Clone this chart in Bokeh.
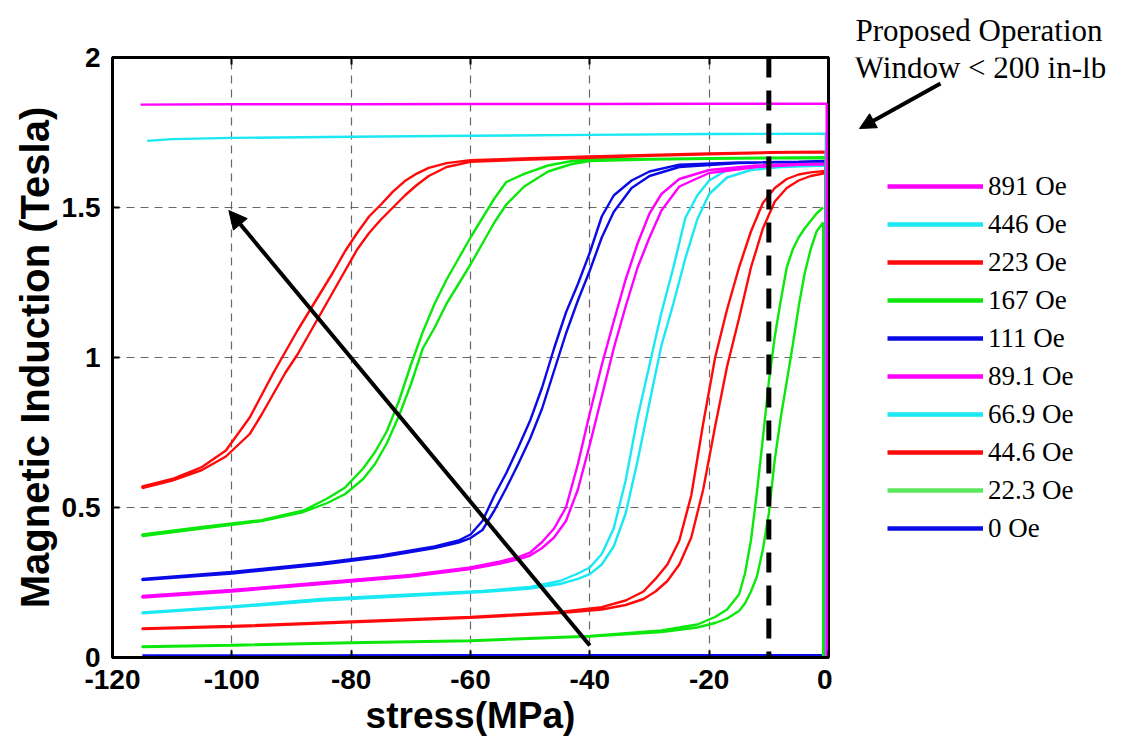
import math

from bokeh.plotting import figure
from bokeh.layouts import row
from bokeh.models import (Range1d, FixedTicker, LinearAxis, Span, Arrow, NormalHead,
                          Label, Legend, LegendItem)
from bokeh.embed import file_html
from bokeh.resources import INLINE

# ---------------------------------------------------------------- axes
STRESS_TICKS = [-120, -100, -80, -60, -40, -20, 0]
STRESS_TICK_LABELS = ["-120", "-100", "-80", "-60", "-40", "-20", "0"]
B_TICKS = [0, 0.5, 1, 1.5, 2]
B_TICK_LABELS = ["0", "0.5", "1", "1.5", "2"]

FIELD_LABELS = ["891 Oe", "446 Oe", "223 Oe", "167 Oe", "111 Oe",
                "89.1 Oe", "66.9 Oe", "44.6 Oe", "22.3 Oe", "0 Oe"]

# ---------------------------------------------------------------- B(stress) loops
# each loop: stress grid (MPa), induction on the upper and lower branch (T)
S_891 = [-115.3, -100, -80, -60, -40, -20, -0.3]
B_891 = [1.843, 1.844, 1.844, 1.845, 1.845, 1.846, 1.846]

S_446 = [-114.2, -110, -100, -80, -60, -40, -20, -0.45]
B_446 = [1.722, 1.728, 1.732, 1.736, 1.739, 1.742, 1.745, 1.746]

S_223 = [-115, -110, -105, -101, -97, -95, -93, -91, -89, -87, -85, -83, -81, -79,
         -77, -75, -73, -71, -69, -67, -64, -60, -50, -40, -30, -20, -10, -0.45]
B_223_UPPER = [0.57, 0.595, 0.635, 0.69, 0.80, 0.875, 0.95, 1.02, 1.09, 1.155,
               1.22, 1.285, 1.355, 1.415, 1.47, 1.51, 1.553, 1.588, 1.613, 1.632,
               1.648, 1.658, 1.664, 1.67, 1.675, 1.68, 1.684, 1.686]
B_223_LOWER = [0.565, 0.59, 0.625, 0.67, 0.745, 0.81, 0.88, 0.95, 1.01, 1.08,
               1.15, 1.22, 1.29, 1.36, 1.415, 1.46, 1.50, 1.54, 1.575, 1.605,
               1.635, 1.652, 1.66, 1.666, 1.672, 1.677, 1.682, 1.684]

S_167 = [-115, -105, -95, -88, -84, -81, -78, -76, -74, -72, -70, -68, -66, -64,
         -62, -60, -58, -56, -54, -51, -47, -43, -40, -30, -20, -10, -0.45]
B_167_UPPER = [0.41, 0.435, 0.458, 0.49, 0.53, 0.567, 0.63, 0.685, 0.755, 0.855,
               0.975, 1.085, 1.18, 1.26, 1.33, 1.40, 1.465, 1.53, 1.585, 1.612,
               1.64, 1.655, 1.66, 1.662, 1.664, 1.666, 1.667]
B_167_LOWER = [0.405, 0.43, 0.455, 0.485, 0.515, 0.545, 0.595, 0.645, 0.715, 0.805,
               0.91, 1.03, 1.10, 1.18, 1.245, 1.31, 1.38, 1.45, 1.51, 1.57,
               1.62, 1.645, 1.655, 1.66, 1.662, 1.664, 1.665]

S_111 = [-115, -100, -85, -75, -66, -62, -60, -58, -56, -54, -52, -50, -48, -46,
         -44, -42, -40, -38, -36, -33, -30, -25, -15, -5, -0.45]
B_111_UPPER = [0.262, 0.285, 0.315, 0.34, 0.37, 0.39, 0.41, 0.455, 0.54, 0.615,
               0.70, 0.79, 0.90, 1.03, 1.15, 1.245, 1.35, 1.47, 1.54, 1.59,
               1.62, 1.643, 1.65, 1.653, 1.655]
B_111_LOWER = [0.258, 0.28, 0.31, 0.335, 0.365, 0.383, 0.398, 0.425, 0.49, 0.565,
               0.645, 0.73, 0.83, 0.955, 1.08, 1.19, 1.29, 1.40, 1.485, 1.565,
               1.605, 1.635, 1.648, 1.652, 1.654]

S_89 = [-115, -100, -85, -70, -60, -55, -52, -50, -48, -46, -44, -42, -40, -38,
        -36, -34, -32, -30, -28, -25, -20, -12, -5, -0.45]
B_89_UPPER = [0.205, 0.225, 0.25, 0.275, 0.30, 0.32, 0.335, 0.35, 0.385, 0.43,
              0.50, 0.645, 0.815, 0.975, 1.12, 1.26, 1.38, 1.48, 1.545, 1.595,
              1.625, 1.64, 1.645, 1.646]
B_89_LOWER = [0.20, 0.22, 0.245, 0.27, 0.295, 0.313, 0.327, 0.34, 0.365, 0.40,
              0.455, 0.56, 0.71, 0.87, 1.03, 1.17, 1.30, 1.40, 1.49, 1.57,
              1.615, 1.635, 1.642, 1.644]

S_67 = [-115, -100, -85, -70, -58, -50, -45, -42, -40, -38, -36, -34, -32, -30,
        -28, -26, -24, -22, -20, -17, -13, -8, -0.45]
B_67_UPPER = [0.15, 0.17, 0.195, 0.21, 0.222, 0.235, 0.255, 0.28, 0.30, 0.345,
              0.43, 0.59, 0.80, 0.975, 1.15, 1.30, 1.465, 1.54, 1.59, 1.625,
              1.635, 1.64, 1.642]
B_67_LOWER = [0.147, 0.167, 0.19, 0.206, 0.218, 0.23, 0.245, 0.262, 0.278, 0.31,
              0.37, 0.48, 0.655, 0.85, 1.04, 1.18, 1.33, 1.46, 1.545, 1.60,
              1.625, 1.635, 1.64]

S_45 = [-115, -100, -80, -60, -45, -38, -34, -31, -29, -27, -25, -23, -21, -19,
        -17, -15, -13, -11, -9, -7, -5, -3, -0.45]
B_45_UPPER = [0.097, 0.105, 0.12, 0.135, 0.152, 0.168, 0.19, 0.22, 0.262, 0.31,
              0.39, 0.54, 0.78, 1.0, 1.16, 1.30, 1.42, 1.515, 1.565, 1.595,
              1.61, 1.617, 1.622]
B_45_LOWER = [0.095, 0.102, 0.117, 0.132, 0.148, 0.16, 0.175, 0.195, 0.22, 0.255,
              0.31, 0.40, 0.56, 0.77, 0.97, 1.13, 1.30, 1.43, 1.52, 1.565,
              1.59, 1.605, 1.615]

S_22 = [-115, -100, -80, -60, -40, -28, -22, -19, -17, -15, -14, -13, -12, -11,
        -10, -9, -8, -7, -6, -5, -4, -3, -2, -0.9]
B_22_UPPER = [0.037, 0.042, 0.05, 0.057, 0.072, 0.09, 0.11, 0.135, 0.16, 0.21,
              0.28, 0.39, 0.55, 0.73, 0.92, 1.07, 1.19, 1.30, 1.36, 1.40,
              1.43, 1.455, 1.48, 1.50]
B_22_LOWER = [0.035, 0.04, 0.048, 0.055, 0.07, 0.085, 0.10, 0.115, 0.13, 0.155,
              0.18, 0.22, 0.27, 0.36, 0.48, 0.66, 0.80, 0.92, 1.04, 1.17,
              1.28, 1.36, 1.42, 1.45]

S_0 = [-115, -60, -0.3]
B_0 = [0.005, 0.006, 0.006]

# guide marks
OPERATING_LIMIT = -10                      # MPa, proposed operation window edge
TREND_FROM = (-40, 0.04)                   # increasing-field trend arrow
TREND_TO = (-100.5, 1.49)

MAGENTA, CYAN, RED, GREEN, BLUE = "#ff00ff", "#1ae8f2", "#ff0a0a", "#0ce80c", "#0a0ae6"


def loop_path(s, upper, lower):
    """Closed path: drop line at zero stress, lower branch out, upper branch back."""
    xs = [s[-1]] + s[::-1] + s
    ys = [0.0] + lower[::-1] + upper
    return xs, ys


def flat_path(s, b):
    return s + [s[-1]], b + [0.0]


# ================================================================ main axes
p = figure(width=832, height=740, x_range=Range1d(-120, 0), y_range=Range1d(0, 2),
           output_backend="svg", toolbar_location=None,
           min_border_left=112, min_border_right=4, min_border_top=57,
           min_border_bottom=83, background_fill_color="white",
           border_fill_color="white")

p.outline_line_color = "black"
p.outline_line_width = 3

for g in (p.xgrid, p.ygrid):
    g.grid_line_color = "#4d4d4d"
    g.grid_line_dash = "8 6"
    g.grid_line_width = 1.2
    g.grid_line_alpha = 0.85
p.xgrid.ticker = FixedTicker(ticks=STRESS_TICKS)
p.ygrid.ticker = FixedTicker(ticks=B_TICKS)

tick_font = dict(major_label_text_font="Liberation Sans",
                 major_label_text_font_style="bold",
                 major_label_text_font_size="28px",
                 major_label_text_color="black",
                 axis_label_text_font="Liberation Sans",
                 axis_label_text_font_style="bold",
                 axis_label_text_color="black")
xa = p.xaxis[0]
xa.ticker = FixedTicker(ticks=STRESS_TICKS)
xa.major_label_overrides = dict(zip(STRESS_TICKS, STRESS_TICK_LABELS))
xa.major_label_standoff = 12
xa.axis_label = "stress(MPa)"
xa.axis_label_text_font_size = "37px"
xa.axis_label_standoff = 3
ya = p.yaxis[0]
ya.ticker = FixedTicker(ticks=B_TICKS)
ya.major_label_overrides = dict(zip(B_TICKS, B_TICK_LABELS))
ya.major_label_standoff = 12
ya.axis_label = "Magnetic Induction (Tesla)"
ya.axis_label_text_font_size = "40px"
ya.axis_label_standoff = 2
for ax in (xa, ya):
    for k, v in tick_font.items():
        setattr(ax, k, v)
    ax.axis_line_width = 3
    ax.axis_line_color = "black"
    ax.major_tick_in = 7
    ax.major_tick_out = 0
    ax.major_tick_line_width = 2
    ax.minor_tick_line_color = None

# tick marks along the top edge of the box, no labels there
top = LinearAxis(ticker=FixedTicker(ticks=STRESS_TICKS),
                 major_label_text_color=None, major_label_text_alpha=0,
                 major_label_text_font_size="1px",
                 major_tick_in=7, major_tick_out=0, major_tick_line_width=2,
                 minor_tick_line_color=None, axis_line_width=3)
p.add_layout(top, "above")

# curves, lowest field first so the high-field loops sit on top
loops = [
    (S_22, B_22_UPPER, B_22_LOWER, GREEN),
    (S_45, B_45_UPPER, B_45_LOWER, RED),
    (S_67, B_67_UPPER, B_67_LOWER, CYAN),
    (S_89, B_89_UPPER, B_89_LOWER, MAGENTA),
    (S_111, B_111_UPPER, B_111_LOWER, BLUE),
    (S_167, B_167_UPPER, B_167_LOWER, GREEN),
    (S_223, B_223_UPPER, B_223_LOWER, RED),
]
p.line(S_0, B_0, line_color=BLUE, line_width=3.5)
for s, up, lo, c in loops:
    xs, ys = loop_path(s, up, lo)
    p.line(xs, ys, line_color=c, line_width=2.4)
for s, b, c in ((S_446, B_446, CYAN), (S_891, B_891, MAGENTA)):
    xs, ys = flat_path(s, b)
    p.line(xs, ys, line_color=c, line_width=2.4)

p.add_layout(Span(location=OPERATING_LIMIT, dimension="height", line_color="black",
                  line_width=5, line_dash="20 13"))
p.add_layout(Arrow(end=NormalHead(size=18, fill_color="black", line_color="black"),
                   x_start=TREND_FROM[0], y_start=TREND_FROM[1],
                   x_end=TREND_TO[0], y_end=TREND_TO[1],
                   line_color="black", line_width=4))

# ================================================================ side panel: note + legend
# ranges follow the page pixels (y grows downwards); the frame lines up with the box
side = figure(width=293, height=740, x_range=Range1d(832, 1125), y_range=Range1d(657, 57),
              title="Proposed Operation", title_location="above",
              output_backend="svg", toolbar_location=None,
              x_axis_location=None, y_axis_location=None,
              min_border_left=0, min_border_right=0, min_border_top=57,
              min_border_bottom=83, background_fill_color="white",
              border_fill_color="white")
side.outline_line_color = None
side.xgrid.visible = False
side.ygrid.visible = False
side.title.align = "center"
side.title.vertical_align = "top"
side.title.text_font = "Liberation Serif"
side.title.text_font_size = "31px"
side.title.text_font_style = "normal"
side.title.text_color = "black"
side.title.standoff = 16

side.add_layout(Label(x=980, y=67, text="Window < 200 in-lb", text_font="Liberation Serif",
                      text_font_size="31px", text_align="center",
                      text_baseline="middle", text_color="black"))
side.add_layout(Arrow(end=NormalHead(size=16, fill_color="black", line_color="black"),
                      x_start=940, y_start=83, x_end=859, y_end=128,
                      line_color="black", line_width=4))

legend_colors = [MAGENTA, CYAN, RED, GREEN, BLUE, MAGENTA, CYAN, RED, "#5ce85c", BLUE]
items = []
for lab, c in zip(FIELD_LABELS, legend_colors):
    r = side.line(x=[math.nan], y=[math.nan], line_color=c, line_width=4.5)
    items.append(LegendItem(label=lab, renderers=[r]))
legend = Legend(items=items, location=(55, 110), orientation="vertical",
                label_text_font="Liberation Serif", label_text_font_size="27px",
                label_text_color="black", glyph_width=96, glyph_height=38,
                label_height=38, label_standoff=5, spacing=0, padding=0, margin=0,
                border_line_color=None, background_fill_alpha=0)
side.add_layout(legend)

layout = row(p, side, spacing=0)
open("out.html", "w").write(file_html(layout, INLINE))
